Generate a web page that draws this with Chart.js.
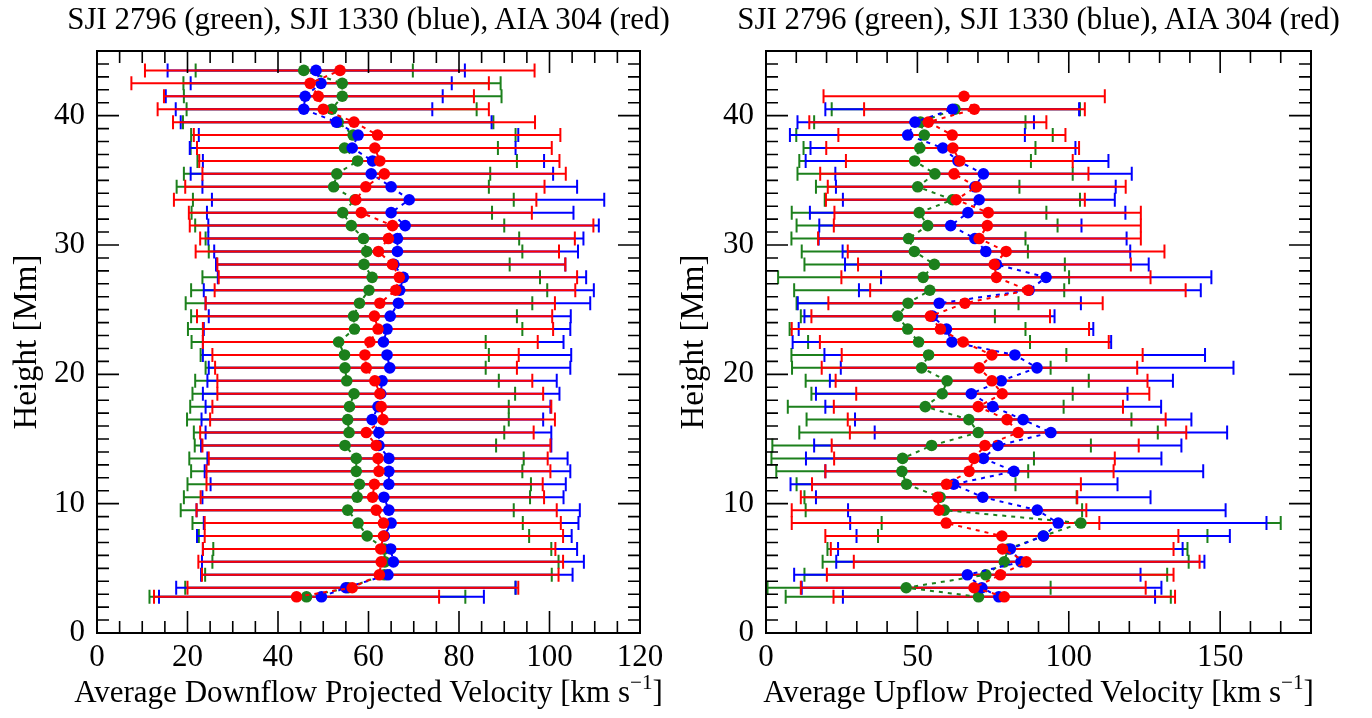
<!DOCTYPE html>
<html>
<head>
<meta charset="utf-8">
<script src="https://cdn.jsdelivr.net/npm/chart.js@4.4.0/dist/chart.umd.min.js"></script>
<style>
  body { margin: 0; background: #fff; width: 1372px; height: 718px; overflow: hidden; position: relative;
         font-family: "Liberation Serif", "Times New Roman", serif; color: #000; }
  canvas { position: absolute; top: 0; }
  .panel-title { position: absolute; top: 0; height: 37px; line-height: 37px; font-size: 31px; text-align: center; white-space: nowrap; }
  .axis-title { position: absolute; top: 673px; height: 38px; line-height: 38px; font-size: 31px; text-align: center; white-space: nowrap; }
  .axis-title sup { font-size: 0.68em; line-height: 0; vertical-align: 0.62em; }
</style>
</head>
<body>
<canvas id="downChart" width="672" height="718" style="left:0"></canvas>
<canvas id="upChart" width="700" height="718" style="left:672px"></canvas>
<div class="panel-title" style="left:0;width:737px">SJI 2796 (green), SJI 1330 (blue), AIA 304 (red)</div>
<div class="panel-title" style="left:705px;width:667px">SJI 2796 (green), SJI 1330 (blue), AIA 304 (red)</div>
<div class="axis-title" style="left:0;width:737px">Average Downflow Projected Velocity [km s<sup>&minus;1</sup>]</div>
<div class="axis-title" style="left:705px;width:667px">Average Upflow Projected Velocity [km s<sup>&minus;1</sup>]</div>
<script>
// ---- Downflow panel (left) ----
const downHeights = [2.8, 3.5, 4.5, 5.5, 6.5, 7.5, 8.5, 9.5, 10.5, 11.5, 12.5, 13.5, 14.5, 15.5, 16.5, 17.5, 18.5, 19.5, 20.5, 21.5,
  22.5, 23.5, 24.5, 25.5, 26.5, 27.5, 28.5, 29.5, 30.5, 31.5, 32.5, 33.5, 34.5, 35.5, 36.5, 37.5, 38.5, 39.5, 40.5, 41.5, 42.5, 43.5];

const downGreen   = [46.3, 55.5, 63.5, 63.6, 63.5, 59.7, 57.7, 55.4, 57.5, 58.0, 57.3, 57.3, 54.8, 55.7, 55.4, 55.8, 56.8, 55.2, 54.8, 54.7,
  53.4, 56.9, 56.7, 58.0, 60.1, 60.8, 59.0, 59.6, 58.9, 56.2, 54.3, 57.0, 52.3, 53.0, 57.6, 54.7, 56.6, 53.3, 51.9, 54.2, 54.2, 45.7];
const downGreenLo = [11.6, 19.5, 23.9, 25.5, 25.7, 22.5, 21.1, 18.5, 19.2, 20.0, 20.8, 20.4, 21.6, 21.4, 19.9, 20.6, 21.1, 21.7, 24.0, 22.9,
  20.9, 20.1, 20.8, 19.6, 20.8, 23.3, 26.5, 24.7, 24.0, 21.7, 20.9, 21.2, 17.6, 19.2, 22.2, 20.7, 20.8, 19.0, 19.8, 19.2, 19.1, 21.8];
const downGreenHi = [81.4, 92.5, 100.5, 102.0, 100.4, 95.5, 94.1, 92.1, 95.7, 95.9, 94.0, 94.3, 88.2, 90.0, 91.0, 91.0, 92.4, 88.8, 85.9, 86.6,
  85.9, 94.0, 92.8, 96.2, 99.5, 97.9, 91.2, 94.0, 93.3, 90.0, 87.3, 92.1, 86.6, 86.9, 92.8, 88.6, 92.5, 87.6, 83.9, 89.4, 89.2, 69.8];

const downBlue   = [49.6, 55.0, 64.3, 65.5, 64.9, 63.5, 65.0, 64.5, 63.4, 64.5, 64.5, 64.5, 62.3, 62.3, 60.8, 62.1, 62.7, 63.0, 64.7, 64.1,
  63.3, 64.1, 64.8, 66.6, 66.9, 67.7, 65.6, 66.4, 66.4, 68.1, 65.0, 69.0, 65.0, 60.6, 60.9, 56.4, 57.7, 52.9, 45.7, 46.0, 49.5, 48.4];
const downBlueLo = [13.7, 17.5, 23.0, 23.2, 23.4, 22.1, 23.6, 22.0, 23.3, 25.1, 23.8, 24.4, 23.0, 24.0, 23.1, 24.0, 23.4, 24.4, 24.7, 23.4,
  23.4, 23.6, 24.7, 24.0, 23.6, 26.7, 26.3, 25.9, 24.6, 24.6, 24.3, 25.4, 23.3, 20.7, 23.4, 20.5, 22.5, 18.5, 17.4, 15.2, 20.7, 15.6];
const downBlueHi = [85.5, 92.5, 105.1, 107.6, 106.1, 104.9, 106.4, 106.7, 103.1, 103.6, 104.6, 104.0, 100.4, 100.4, 98.6, 100.2, 102.2, 101.6, 104.6, 104.8,
  103.1, 104.6, 104.7, 109.0, 109.8, 108.1, 103.5, 106.3, 107.5, 110.9, 105.3, 112.1, 106.1, 100.8, 98.8, 92.5, 93.1, 87.2, 74.1, 76.4, 78.4, 81.3];

const downRed   = [44.1, 56.4, 62.4, 62.8, 62.7, 63.3, 63.3, 61.7, 60.9, 61.3, 62.3, 62.1, 61.7, 59.5, 63.2, 62.8, 62.5, 61.4, 59.5, 59.2,
  60.3, 62.1, 61.3, 62.5, 66.0, 66.8, 65.3, 62.2, 64.4, 65.3, 58.4, 57.2, 59.4, 63.5, 62.5, 61.4, 62.0, 56.8, 50.0, 48.9, 47.1, 53.7];
const downRedLo = [12.6, 20.0, 23.2, 22.4, 23.4, 23.8, 23.8, 22.0, 22.9, 24.2, 24.2, 24.7, 23.3, 22.8, 25.0, 25.5, 26.6, 26.6, 26.1, 25.5,
  23.4, 23.4, 22.1, 24.0, 26.0, 26.9, 26.6, 21.8, 22.8, 20.5, 20.3, 17.0, 19.5, 23.3, 22.6, 22.1, 21.4, 16.8, 13.4, 14.8, 7.6, 10.6];
const downRedHi = [75.6, 93.1, 102.0, 103.0, 101.3, 103.0, 102.5, 101.6, 98.8, 98.5, 100.2, 99.6, 100.2, 96.5, 101.2, 100.4, 98.6, 96.2, 92.8, 93.2,
  97.4, 100.8, 100.6, 101.2, 105.7, 106.1, 103.5, 102.1, 105.6, 109.7, 96.1, 97.1, 98.9, 103.6, 102.2, 100.5, 102.4, 96.8, 86.6, 83.3, 86.6, 96.7];

// ---- Upflow panel (right) ----
const upHeights = [2.8, 3.5, 4.5, 5.5, 6.5, 7.5, 8.5, 9.5, 10.5, 11.5, 12.5, 13.5, 14.5, 15.5, 16.5, 17.5, 18.5, 19.5, 20.5, 21.5,
  22.5, 23.5, 24.5, 25.5, 26.5, 27.5, 28.5, 29.5, 30.5, 31.5, 32.5, 33.5, 34.5, 35.5, 36.5, 37.5, 38.5, 39.5, 40.5, 41.5];

const upGreen   = [70.2, 46.3, 72.6, 78.7, 79.9, 91.6, 104.0, 58.9, 57.5, 46.4, 44.9, 45.1, 54.7, 70.1, 67.0, 52.6, 58.2, 59.8, 51.4, 53.7,
  50.4, 46.8, 43.5, 46.9, 54.1, 51.9, 55.6, 49.0, 47.1, 53.4, 50.6, 61.6, 50.1, 55.8, 49.1, 50.8, 52.3, 51.0, 62.4, null];
const upGreenLo = [6.5, 0.5, 12.7, 18.7, 20.3, 37.0, 38.2, 13.1, 12.7, 10.1, 3.4, 1.8, 2.1, 11.0, 13.4, 7.2, 15.0, 13.1, 8.6, 8.4,
  13.9, 7.8, 11.5, 10.1, 9.3, 4.0, 12.7, 11.8, 8.4, 10.1, 8.5, 19.4, 16.5, 10.4, 11.0, 12.4, 10.0, 15.9, 21.7, null];
const upGreenHi = [133.7, 94.0, 132.5, 139.6, 139.2, 145.8, 170.0, 104.4, 102.6, 82.4, 86.6, 88.5, 107.3, 129.4, 120.7, 98.3, 101.3, 106.6, 94.0, 99.2,
  87.2, 85.7, 75.6, 83.4, 98.5, 100.1, 98.7, 86.5, 85.7, 96.3, 92.6, 103.7, 83.7, 101.3, 87.5, 89.0, 94.7, 85.7, 103.7, null];

const upBlue   = [76.9, 71.3, 66.5, 84.2, 80.7, 91.6, 96.5, 89.6, 71.6, 62.0, 81.9, 71.8, 76.6, 94.1, 84.9, 74.9, 67.8, 77.7, 89.5, 82.2,
  61.4, 59.6, 55.0, 57.2, 86.9, 92.5, 76.1, 72.6, 69.0, 61.0, 66.7, 70.4, 69.0, 71.8, 63.4, 58.4, 46.8, 49.2, 61.6, null];
const upBlueLo = [25.4, 11.8, 9.3, 23.2, 23.8, 29.9, 27.8, 27.1, 16.5, 8.1, 19.6, 13.2, 15.9, 35.9, 29.4, 19.6, 16.5, 21.1, 24.7, 19.3,
  8.8, 10.8, 12.7, 10.5, 30.7, 38.0, 26.1, 25.3, 17.4, 17.6, 14.5, 25.4, 23.1, 22.9, 13.1, 14.7, 7.9, 10.4, 19.6, null];
const upBlueHi = [128.5, 130.6, 123.7, 144.8, 137.6, 153.2, 165.3, 151.8, 127.0, 116.1, 144.4, 130.6, 137.2, 152.3, 140.5, 130.5, 119.4, 134.4, 154.4, 145.0,
  114.0, 108.1, 95.3, 104.0, 143.6, 147.1, 126.4, 120.3, 119.1, 104.2, 118.7, 115.2, 115.5, 120.8, 113.1, 102.2, 85.5, 88.5, 103.4, null];

const upRed   = [78.7, 68.7, 77.4, 86.0, 78.1, 77.9, 59.5, 57.1, 56.7, 59.6, 67.1, 68.7, 72.3, 83.3, 79.6, 70.1, 78.0, 74.6, 70.4, 74.6,
  65.1, 57.6, 54.3, 65.7, 86.6, 76.1, 75.4, 79.3, 70.4, 73.1, 73.4, 62.8, 69.5, 62.1, 64.0, 61.7, 61.5, 53.6, 68.8, 65.4];
const upRedLo = [22.3, 11.5, 20.1, 29.0, 21.4, 19.6, 8.5, 8.5, 11.5, 15.2, 19.6, 22.5, 21.7, 27.7, 27.0, 22.4, 29.8, 23.0, 18.4, 25.0,
  17.8, 8.5, 15.0, 20.6, 34.4, 24.9, 30.4, 27.0, 17.2, 22.4, 22.6, 19.8, 20.4, 17.9, 26.4, 19.9, 23.9, 14.3, 32.4, 19.0];
const upRedHi = [135.1, 125.4, 134.6, 143.2, 134.6, 136.2, 110.1, 105.8, 102.8, 104.0, 114.8, 115.2, 123.1, 138.8, 132.0, 117.9, 126.6, 126.0, 122.6, 124.4,
  113.2, 106.7, 93.8, 111.2, 138.6, 127.0, 120.5, 131.6, 123.8, 123.8, 123.8, 105.3, 118.8, 106.5, 101.3, 103.4, 98.9, 92.6, 105.3, 111.9];

const SERIF = '"Liberation Serif", "Times New Roman", serif';
const GREEN = 'rgb(28,128,28)';
const BLUE = 'rgb(0,0,255)';
const RED = 'rgb(255,0,0)';

// Pair the arrays into points, skipping missing values
function points(heights, vals, lo, hi) {
    const out = [];
    heights.forEach((h, i) => {
        if (vals[i] == null) return;
        out.push({ x: vals[i], y: h, xMin: lo[i], xMax: hi[i] });
    });
    return out;
}

function series(color, data) {
    return {
        data: data,
        showLine: true,
        borderColor: color,
        borderWidth: 2,
        borderDash: [4, 5],
        pointRadius: 5.8,
        pointBackgroundColor: color,
        pointBorderColor: color,
        pointBorderWidth: 0
    };
}

// Horizontal error bars with caps, drawn under the points
const errorBars = {
    id: 'errorBars',
    beforeDatasetsDraw(chart) {
        const { ctx, scales: { x, y } } = chart;
        ctx.save();
        ctx.lineWidth = 2;
        for (let d = chart.data.datasets.length - 1; d >= 0; d--) {
            const ds = chart.data.datasets[d];
            ctx.strokeStyle = ds.borderColor;
            ds.data.forEach(p => {
                const py = y.getPixelForValue(p.y);
                const x0 = x.getPixelForValue(p.xMin);
                const x1 = x.getPixelForValue(p.xMax);
                ctx.beginPath();
                ctx.moveTo(x0, py); ctx.lineTo(x1, py);
                ctx.moveTo(x0, py - 7); ctx.lineTo(x0, py + 7);
                ctx.moveTo(x1, py - 7); ctx.lineTo(x1, py + 7);
                ctx.stroke();
            });
        }
        ctx.restore();
    }
};

// Box with inward major/minor ticks on all four sides
const frameTicks = {
    id: 'frameTicks',
    afterDraw(chart, args, opts) {
        const { ctx, chartArea: a, scales: { x, y } } = chart;
        ctx.save();
        ctx.strokeStyle = '#000';
        ctx.lineWidth = 1.6;
        ctx.beginPath();
        for (let v = x.min; v <= x.max + 1e-6; v += opts.xMinor) {
            const px = x.getPixelForValue(v);
            const len = Math.abs(v % opts.xMajor) < 1e-6 ? 22 : 12;
            ctx.moveTo(px, a.bottom); ctx.lineTo(px, a.bottom - len);
            ctx.moveTo(px, a.top); ctx.lineTo(px, a.top + len);
        }
        for (let v = y.min; v <= y.max + 1e-6; v += opts.yMinor) {
            const py = y.getPixelForValue(v);
            const len = Math.abs(v % opts.yMajor) < 1e-6 ? 22 : 12;
            ctx.moveTo(a.left, py); ctx.lineTo(a.left + len, py);
            ctx.moveTo(a.right, py); ctx.lineTo(a.right - len, py);
        }
        ctx.stroke();
        ctx.lineWidth = 2;
        ctx.strokeRect(a.left, a.top, a.right - a.left, a.bottom - a.top);
        ctx.restore();
    }
};

function buildChart(canvas, cfg) {
    const labelFont = { family: SERIF, size: 33, weight: 'normal' };
    const tickFont = { family: SERIF, size: 31, weight: 'normal' };
    return new Chart(canvas, {
        type: 'scatter',
        data: {
            datasets: [
                series(RED, points(cfg.heights, cfg.red, cfg.redLo, cfg.redHi)),
                series(BLUE, points(cfg.heights, cfg.blue, cfg.blueLo, cfg.blueHi)),
                series(GREEN, points(cfg.heights, cfg.green, cfg.greenLo, cfg.greenHi))
            ]
        },
        options: {
            responsive: false,
            animation: false,
            layout: { padding: { left: 0, right: cfg.padRight, top: 51, bottom: 0 } },
            plugins: {
                legend: { display: false },
                tooltip: { enabled: false },
                frameTicks: { xMinor: cfg.xMinor, xMajor: cfg.xMajor, yMinor: 1, yMajor: 10 }
            },
            scales: {
                x: {
                    type: 'linear', min: 0, max: cfg.xMax,
                    grid: { display: false, drawTicks: false },
                    border: { display: false },
                    ticks: { stepSize: cfg.xMajor, includeBounds: false, padding: 6, color: '#000', font: tickFont, maxRotation: 0 },
                    afterFit: s => { s.height = 85; }
                },
                y: {
                    type: 'linear', min: 0, max: 45,
                    grid: { display: false, drawTicks: false },
                    border: { display: false },
                    ticks: { stepSize: 10, includeBounds: false, padding: 12, color: '#000', font: tickFont },
                    title: { display: true, text: 'Height [Mm]', color: '#000', font: labelFont, padding: { top: cfg.yTitlePad, bottom: 0 } },
                    afterFit: s => { s.width = cfg.yWidth; }
                }
            }
        },
        plugins: [errorBars, frameTicks]
    });
}

buildChart(document.getElementById('downChart'), {
    heights: downHeights,
    green: downGreen, greenLo: downGreenLo, greenHi: downGreenHi,
    blue: downBlue, blueLo: downBlueLo, blueHi: downBlueHi,
    red: downRed, redLo: downRedLo, redHi: downRedHi,
    xMax: 120, xMajor: 20, xMinor: 5,
    yWidth: 97, yTitlePad: 8, padRight: 32
});

buildChart(document.getElementById('upChart'), {
    heights: upHeights,
    green: upGreen, greenLo: upGreenLo, greenHi: upGreenHi,
    blue: upBlue, blueLo: upBlueLo, blueHi: upBlueHi,
    red: upRed, redLo: upRedLo, redHi: upRedHi,
    xMax: 180, xMajor: 50, xMinor: 10,
    yWidth: 94, yTitlePad: 3, padRight: 61
});
</script>
</body>
</html>
